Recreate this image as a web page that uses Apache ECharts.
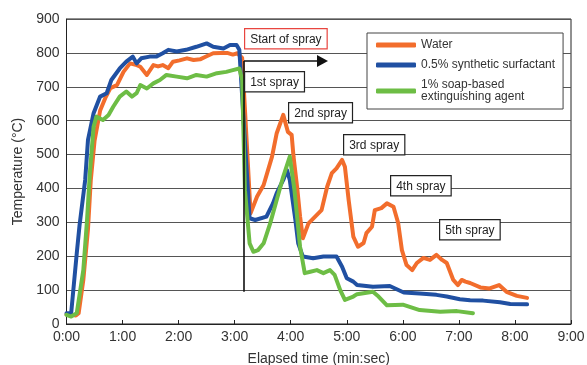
<!DOCTYPE html>
<html>
<head>
<meta charset="utf-8">
<script src="https://cdn.jsdelivr.net/npm/echarts@6/dist/echarts.min.js"></script>
<style>
  html, body { margin: 0; padding: 0; background: #fff; }
  #chart { width: 587px; height: 365px; }
</style>
</head>
<body>
<div id="chart"></div>
<script>
// elapsed time in seconds, temperature in degC
var waterData = [
  [0, 28], [6, 27], [10, 25], [13, 32], [18, 130], [23, 280], [26, 425], [30, 540], [36, 630],
  [42, 670], [47, 696], [54, 705], [61, 744], [68, 769], [74, 765], [79, 759], [86, 735],
  [93, 764], [98, 760], [103, 764], [109, 755], [114, 774], [121, 778], [129, 784], [136, 779],
  [143, 781], [150, 790], [157, 799], [165, 800], [172, 800], [178, 795], [183, 799], [188, 785],
  [197, 327], [204, 376], [211, 410], [220, 494], [225, 563], [232, 617], [237, 567], [241, 558],
  [243, 494], [247, 400], [250, 317], [253, 253], [259, 297], [268, 322], [273, 336], [279, 405],
  [284, 445], [289, 459], [295, 484], [298, 464], [302, 366], [307, 258], [312, 228], [318, 239],
  [321, 268], [327, 287], [330, 336], [337, 342], [343, 356], [350, 346], [355, 298], [359, 218],
  [364, 174], [370, 159], [375, 180], [382, 195], [389, 189], [396, 204], [402, 189], [407, 180],
  [414, 130], [419, 115], [423, 130], [427, 125], [432, 121], [443, 108], [453, 105], [463, 115],
  [471, 95], [482, 83], [493, 77]
]
var surfactantData = [
  [0, 32], [5, 32], [11, 209], [14, 292], [20, 425], [23, 543], [29, 622], [36, 671], [43, 681],
  [48, 720], [57, 754], [64, 774], [71, 789], [75, 769], [80, 784], [89, 789], [96, 789],
  [103, 799], [109, 809], [118, 804], [128, 809], [139, 818], [150, 828], [157, 818], [168, 813],
  [175, 823], [182, 823], [185, 809], [196, 312], [202, 307], [214, 317], [221, 356], [225, 386],
  [232, 425], [236, 454], [239, 425], [245, 307], [248, 238], [253, 199], [264, 194], [275, 199],
  [289, 199], [295, 169], [300, 135], [307, 125], [311, 115], [328, 110], [346, 112], [361, 93],
  [378, 90], [396, 86], [407, 81], [421, 73], [432, 70], [446, 69], [464, 64], [475, 59], [493, 58]
]
var soapData = [
  [0, 27], [5, 22], [11, 32], [18, 159], [22, 307], [25, 445], [29, 582], [32, 612], [39, 602],
  [45, 617], [50, 641], [57, 671], [64, 686], [70, 671], [75, 681], [79, 705], [86, 695],
  [93, 710], [100, 720], [107, 735], [118, 730], [129, 725], [139, 735], [150, 730], [161, 740],
  [171, 744], [178, 749], [185, 754], [188, 720], [191, 395], [196, 238], [200, 213], [205, 218],
  [211, 238], [218, 297], [225, 366], [232, 435], [239, 494], [244, 395], [250, 228], [255, 150],
  [261, 154], [268, 159], [275, 150], [282, 159], [287, 145], [293, 100], [298, 71], [307, 81],
  [311, 88], [328, 95], [334, 81], [343, 55], [360, 57], [378, 41], [400, 36], [418, 38], [435, 32]
]
var seriesNames = ['Water', '0.5% synthetic surfactant', '1% soap-based extinguishing agent']
var seriesColors = ['#f26d2c', '#2050a2', '#6dbd45']
var sprayLabels = ['1st spray', '2nd spray', '3rd spray', '4th spray', '5th spray']

// spray start marker (sec, degC)
var sprayStart = 190
var arrowEnd = 274
var markerTop = 776
var markerBottom = 95

var chart = echarts.init(document.getElementById('chart'), null, { renderer: 'canvas' })

function fmtTime(v) {
  var m = Math.floor(v / 60)
  var s = v % 60
  return m + ':' + (s < 10 ? '0' + s : s)
}

function boxText(txt, left, top, border) {
  return {
    type: 'text',
    left: left,
    top: top,
    z: 100,
    style: {
      text: txt,
      font: '12px "Liberation Sans", Arial, sans-serif',
      fill: '#222',
      backgroundColor: '#fff',
      borderColor: border || '#222',
      borderWidth: 1.2,
      padding: [4, 5, 3, 5]
    }
  }
}

var lineSeries = []
var allData = [waterData, surfactantData, soapData]
for (var i = 0; i < allData.length; i++) {
  lineSeries.push({
    name: seriesNames[i],
    type: 'line',
    data: allData[i],
    showSymbol: false,
    symbol: 'none',
    animation: false,
    lineStyle: { color: seriesColors[i], width: 4, join: 'round', cap: 'round' },
    itemStyle: { color: seriesColors[i] }
  })
}
// vertical start line + arrow
lineSeries.push({
  type: 'line',
  data: [],
  animation: false,
  markLine: {
    silent: true,
    animation: false,
    label: { show: false },
    lineStyle: { color: '#111', width: 1.6, type: 'solid' },
    data: [
      [{ coord: [sprayStart, markerBottom], symbol: 'none' }, { coord: [sprayStart, markerTop], symbol: 'none' }],
      [{ coord: [sprayStart, markerTop], symbol: 'none' }, { coord: [arrowEnd, markerTop], symbol: 'triangle', symbolSize: [12, 11], symbolRotate: -90 }]
    ]
  }
})

var option = {
  backgroundColor: '#fff',
  animation: false,
  textStyle: { fontFamily: '"Liberation Sans", Arial, sans-serif' },
  grid: {
    left: 66.5, top: 19, right: 16, bottom: 41,
    show: true, borderColor: '#222', borderWidth: 1,
    containLabel: false, outerBoundsMode: 'none'
  },
  legend: {
    data: seriesNames,
    orient: 'vertical',
    left: 367, top: 33,
    padding: [6, 8, 6, 9],
    itemGap: 8,
    itemWidth: 40, itemHeight: 5,
    icon: 'roundRect',
    backgroundColor: '#fff',
    borderColor: '#444', borderWidth: 1,
    formatter: function (n) { return n.replace('soap-based ', 'soap-based\n') },
    textStyle: { fontSize: 12, color: '#333', lineHeight: 12 }
  },
  xAxis: {
    type: 'value',
    min: 0, max: 540, interval: 60,
    name: 'Elapsed time (min:sec)',
    nameLocation: 'middle', nameGap: 28,
    nameTextStyle: { fontSize: 14, color: '#333' },
    axisLine: { show: true, lineStyle: { color: '#222', width: 1 } },
    axisTick: { show: true, inside: true, length: 4, lineStyle: { color: '#222' } },
    axisLabel: { fontSize: 14, color: '#333', margin: 6, formatter: fmtTime },
    splitLine: { show: false }
  },
  yAxis: {
    type: 'value',
    min: 0, max: 900, interval: 100,
    name: 'Temperature (°C)',
    nameLocation: 'middle', nameGap: 40,
    nameTextStyle: { fontSize: 14, color: '#333' },
    axisLine: { show: true, lineStyle: { color: '#222', width: 1 } },
    axisTick: { show: false },
    axisLabel: { fontSize: 14, color: '#333', margin: 7 },
    splitLine: { show: true, lineStyle: { color: '#555', width: 1 } }
  },
  series: lineSeries,
  graphic: [
    boxText('Start of spray', 244, 28, '#e8453f'),
    boxText(sprayLabels[0], 244, 71),
    boxText(sprayLabels[1], 288, 102),
    boxText(sprayLabels[2], 343, 134),
    boxText(sprayLabels[3], 390, 175),
    boxText(sprayLabels[4], 439, 219)
  ]
}

chart.setOption(option)
</script>
</body>
</html>
